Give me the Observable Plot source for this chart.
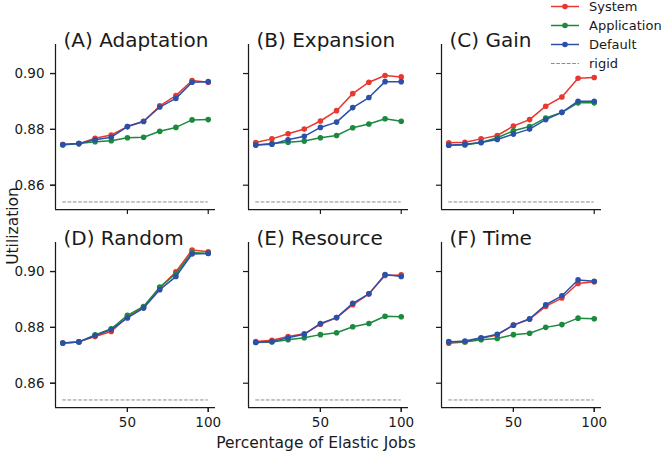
<!DOCTYPE html>
<html>
<head>
<meta charset="utf-8">
<script src="https://cdn.jsdelivr.net/npm/d3@7"></script>
<script src="https://cdn.jsdelivr.net/npm/@observablehq/plot@0.6"></script>
<style>
  body { margin: 0; background: #fff; font-family: "DejaVu Sans", sans-serif; }
  #wrap { position: relative; width: 661px; height: 454px; overflow: hidden; background: #fff; }
  #wrap svg.main { position: absolute; left: 0; top: 0; }
  .lbl { position: absolute; font-family: "DejaVu Sans", sans-serif; font-size: 15.5px; color: #1a1a1a; white-space: nowrap; }
  #legend { position: absolute; left: 545px; top: 0; }
</style>
</head>
<body>
<div id="wrap"></div>
<script>
// ---- data ----
const percent = [10, 20, 30, 40, 50, 60, 70, 80, 90, 100];
const panelTitles = ["(A) Adaptation", "(B) Expansion", "(C) Gain", "(D) Random", "(E) Resource", "(F) Time"];
const seriesNames = ["System", "Application", "Default"];
const seriesColors = ["#e8382f", "#1b8a3e", "#2a50aa"];

const systemValues = [
  [0.8746, 0.8749, 0.8768, 0.8780, 0.8810, 0.8829, 0.8884, 0.8921, 0.8975, 0.8969],
  [0.8753, 0.8766, 0.8784, 0.8801, 0.8830, 0.8867, 0.8928, 0.8969, 0.8993, 0.8988],
  [0.8752, 0.8754, 0.8766, 0.8778, 0.8812, 0.8835, 0.8883, 0.8916, 0.8983, 0.8986],
  [0.8744, 0.8748, 0.8767, 0.8785, 0.8837, 0.8873, 0.8941, 0.8999, 0.9077, 0.9071],
  [0.8749, 0.8754, 0.8767, 0.8777, 0.8811, 0.8835, 0.8881, 0.8920, 0.8986, 0.8988],
  [0.8743, 0.8748, 0.8761, 0.8773, 0.8808, 0.8829, 0.8875, 0.8905, 0.8957, 0.8963]
];
const applicationValues = [
  [0.8744, 0.8749, 0.8756, 0.8759, 0.8770, 0.8772, 0.8793, 0.8807, 0.8834, 0.8835],
  [0.8744, 0.8749, 0.8754, 0.8758, 0.8770, 0.8778, 0.8806, 0.8819, 0.8838, 0.8829],
  [0.8743, 0.8744, 0.8753, 0.8770, 0.8795, 0.8810, 0.8841, 0.8861, 0.8895, 0.8895],
  [0.8744, 0.8748, 0.8773, 0.8795, 0.8843, 0.8875, 0.8944, 0.8992, 0.9068, 0.9065],
  [0.8746, 0.8748, 0.8756, 0.8763, 0.8774, 0.8781, 0.8802, 0.8814, 0.8840, 0.8838],
  [0.8749, 0.8748, 0.8756, 0.8760, 0.8774, 0.8779, 0.8800, 0.8810, 0.8833, 0.8831]
];
const defaultValues = [
  [0.8746, 0.8749, 0.8763, 0.8772, 0.8810, 0.8828, 0.8880, 0.8911, 0.8969, 0.8971],
  [0.8744, 0.8747, 0.8763, 0.8775, 0.8807, 0.8826, 0.8878, 0.8914, 0.8971, 0.8971],
  [0.8743, 0.8747, 0.8753, 0.8764, 0.8783, 0.8801, 0.8835, 0.8861, 0.8901, 0.8901],
  [0.8744, 0.8748, 0.8771, 0.8792, 0.8834, 0.8869, 0.8935, 0.8982, 0.9063, 0.9065],
  [0.8746, 0.8749, 0.8763, 0.8775, 0.8814, 0.8835, 0.8886, 0.8920, 0.8989, 0.8982],
  [0.8748, 0.8751, 0.8763, 0.8775, 0.8808, 0.8831, 0.8881, 0.8913, 0.8970, 0.8965]
];
const rigidValue = 0.854;
const rigidLabel = "rigid";
const yTicks = [0.86, 0.88, 0.90];
const xTicks = [50, 100];
const xLabel = "Percentage of Elastic Jobs";
const yLabel = "Utilization";

// ---- build tables ----
const seriesValues = [systemValues, applicationValues, defaultValues];
const rows = [];
seriesValues.forEach((vals, s) => {
  vals.forEach((arr, p) => {
    arr.forEach((v, i) => rows.push({series: seriesNames[s], panel: p, col: p % 3, row: Math.floor(p / 3), x: percent[i], y: v}));
  });
});
const titleRows = panelTitles.map((t, p) => ({title: t, col: p % 3, row: Math.floor(p / 3)}));

const xDomain = [5.5, 104.5];
const yDomain = [0.8513, 0.9104];
const ink = "#1a1a1a";

const marks = [
  Plot.ruleY([rigidValue], {x1: 10, x2: 100, stroke: "#8c8c8c", strokeWidth: 1, strokeDasharray: "3.7,1.6"})
];
seriesNames.forEach((name, s) => {
  const d = rows.filter(r => r.series === name);
  marks.push(Plot.line(d, {x: "x", y: "y", fx: "col", fy: "row", z: "panel", stroke: seriesColors[s], strokeWidth: 1.5}));
  marks.push(Plot.dot(d, {x: "x", y: "y", fx: "col", fy: "row", fill: seriesColors[s], r: 2.8}));
});
marks.push(
  Plot.ruleX([xDomain[0]], {stroke: ink, strokeWidth: 1.25}),
  Plot.ruleY([yDomain[0]], {stroke: ink, strokeWidth: 1.25}),
  Plot.axisY({ticks: yTicks, tickSize: 5, tickPadding: 6, tickFormat: d3.format(".2f"), label: null, strokeWidth: 1.2, stroke: ink, fill: ink, fontSize: 13.5}),
  Plot.axisY({ticks: yTicks, tickSize: 5, tickFormat: () => "", label: null, facetAnchor: null, strokeWidth: 1.2, stroke: ink}),
  Plot.axisX({ticks: xTicks, tickSize: 5, tickPadding: 5, label: null, strokeWidth: 1.2, stroke: ink, fill: ink, fontSize: 13.5}),
  Plot.axisX({ticks: xTicks, tickSize: 5, tickFormat: () => "", label: null, facetAnchor: null, strokeWidth: 1.2, stroke: ink}),
  Plot.text(titleRows, {fx: "col", fy: "row", text: "title", frameAnchor: "top-left", textAnchor: "start", lineAnchor: "bottom", dx: 8, dy: 2.5, fontSize: 20, fill: ink})
);

const chart = Plot.plot({
  width: 661,
  height: 454,
  marginLeft: 54,
  marginRight: 58,
  marginTop: 44,
  marginBottom: 46,
  style: {fontFamily: "DejaVu Sans", fontSize: "13.5px", color: ink, background: "transparent", overflow: "visible"},
  x: {domain: xDomain},
  y: {domain: yDomain},
  fx: {domain: [0, 1, 2], paddingInner: 0.17, paddingOuter: 0, axis: null},
  fy: {domain: [0, 1], paddingInner: 0.166, paddingOuter: 0, axis: null},
  marks
});
chart.classList.add("main");
const wrap = document.getElementById("wrap");
wrap.appendChild(chart);

// axis labels
const xl = document.createElement("div");
xl.className = "lbl";
xl.textContent = xLabel;
xl.style.left = "316px";
xl.style.top = "443px";
xl.style.transform = "translate(-50%, -50%)";
wrap.appendChild(xl);
const yl = document.createElement("div");
yl.className = "lbl";
yl.textContent = yLabel;
yl.style.left = "13px";
yl.style.top = "226px";
yl.style.transform = "translate(-50%, -50%) rotate(-90deg)";
wrap.appendChild(yl);

// legend
const leg = d3.select(wrap).append("svg").attr("id", "legend").attr("width", 116).attr("height", 74)
  .style("font-family", "DejaVu Sans").style("font-size", "13px");
const legItems = seriesNames.map((n, i) => ({name: n, color: seriesColors[i], dashed: false}))
  .concat([{name: rigidLabel, color: "#8c8c8c", dashed: true}]);
legItems.forEach((it, i) => {
  const y = 6.5 + i * 19;
  leg.append("line").attr("x1", 6).attr("x2", 34).attr("y1", y).attr("y2", y)
    .attr("stroke", it.color).attr("stroke-width", it.dashed ? 1 : 1.5)
    .attr("stroke-dasharray", it.dashed ? "3.7,1.6" : null);
  if (!it.dashed) leg.append("circle").attr("cx", 20).attr("cy", y).attr("r", 2.8).attr("fill", it.color);
  leg.append("text").attr("x", 44).attr("y", y).attr("dy", "0.35em").attr("fill", ink).text(it.name);
});
</script>
</body>
</html>
